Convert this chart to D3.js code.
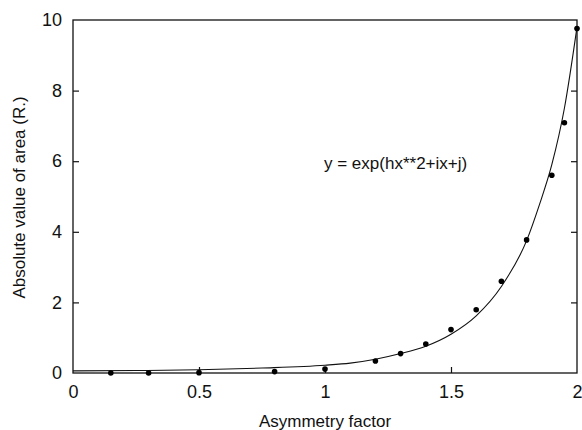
<!DOCTYPE html>
<html><head><meta charset="utf-8">
<script src="https://cdn.jsdelivr.net/npm/d3@7"></script>
<style>body{margin:0;background:#fff}svg{display:block}text{font-family:"Liberation Sans",Arial,sans-serif;fill:#111}</style>
</head><body>
<svg id="c" width="582" height="430"></svg>
<script>
// measured points
const pointX = [0.15, 0.3, 0.5, 0.8, 1.0, 1.2, 1.3, 1.4, 1.5, 1.6, 1.7, 1.8, 1.9, 1.95, 2.0];
const pointY = [0.0, 0.0, 0.01, 0.04, 0.11, 0.34, 0.55, 0.82, 1.23, 1.79, 2.6, 3.77, 5.6, 7.09, 9.76];
// fitted curve
const curveX = [0, 0.25, 0.5, 0.75, 1.0, 1.1, 1.2, 1.3, 1.4, 1.5, 1.6, 1.7, 1.8, 1.85, 1.9, 1.95, 2.0];
const curveY = [0.06, 0.07, 0.09, 0.14, 0.22, 0.28, 0.39, 0.55, 0.76, 1.10, 1.62, 2.45, 3.75, 4.75, 5.9, 7.5, 9.8];
const xTicks = [0, 0.5, 1, 1.5, 2];
const xTickLabels = ["0", "0.5", "1", "1.5", "2"];
const yTicks = [0, 2, 4, 6, 8, 10];
const yTickLabels = ["0", "2", "4", "6", "8", "10"];
const xTitle = "Asymmetry factor";
const yTitle = "Absolute value of area (R.)";
const equation = "y = exp(hx**2+ix+j)";

const L = 73, R = 577, T = 20, B = 373;
const svg = d3.select("#c");
const x = d3.scaleLinear().domain([0, 2]).range([L, R]);
const y = d3.scaleLinear().domain([0, 10]).range([B, T]);
const fs = 17, tfs = 18;

// frame
svg.append("rect").attr("x", L).attr("y", T).attr("width", R - L).attr("height", B - T)
  .attr("fill", "none").attr("stroke", "#111").attr("stroke-width", 1.3);

// bottom axis (ticks inward)
const bx = svg.append("g").attr("transform", `translate(0,${B})`)
  .call(d3.axisBottom(x).tickValues(xTicks).tickSize(-6).tickPadding(12)
    .tickFormat((d, i) => xTickLabels[i]));
bx.select(".domain").remove();
bx.selectAll("line").attr("stroke", "#111").attr("stroke-width", 1.2)
  .filter(d => d === 0 || d === 2).remove();
bx.selectAll("text").attr("font-size", tfs).attr("font-family", "Liberation Sans, Arial, sans-serif").attr("fill", "#111");

// left axis
const ly = svg.append("g").attr("transform", `translate(${L},0)`)
  .call(d3.axisLeft(y).tickValues(yTicks).tickSize(-6).tickPadding(11)
    .tickFormat((d, i) => yTickLabels[i]));
ly.select(".domain").remove();
ly.selectAll("line").attr("stroke", "#111").attr("stroke-width", 1.2)
  .filter(d => d === 0 || d === 10).remove();
ly.selectAll("text").attr("font-size", tfs).attr("font-family", "Liberation Sans, Arial, sans-serif").attr("fill", "#111");

// right axis ticks (no labels)
const ry = svg.append("g").attr("transform", `translate(${R},0)`)
  .call(d3.axisRight(y).tickValues(yTicks.filter(d => d > 0 && d < 10)).tickSize(-6).tickFormat(""));
ry.select(".domain").remove();
ry.selectAll("line").attr("stroke", "#111").attr("stroke-width", 1.2);

// curve
const line = d3.line().x(d => x(d[0])).y(d => y(d[1])).curve(d3.curveMonotoneX);
svg.append("path").datum(curveX.map((v, i) => [v, curveY[i]]))
  .attr("d", line).attr("fill", "none").attr("stroke", "#111").attr("stroke-width", 1.1);

// points
svg.append("g").selectAll("circle").data(pointX.map((v, i) => [v, pointY[i]])).join("circle")
  .attr("cx", d => x(d[0])).attr("cy", d => y(d[1])).attr("r", 2.8).attr("fill", "#000");

// titles
svg.append("text").attr("x", (L + R) / 2).attr("y", 427).attr("text-anchor", "middle")
  .attr("font-size", fs).text(xTitle);
svg.append("text").attr("transform", `translate(25,${(T + B) / 2 + 1}) rotate(-90)`)
  .attr("text-anchor", "middle").attr("font-size", fs).text(yTitle);
svg.append("text").attr("x", 324).attr("y", 169).attr("font-size", fs).text(equation);
</script>
</body></html>
